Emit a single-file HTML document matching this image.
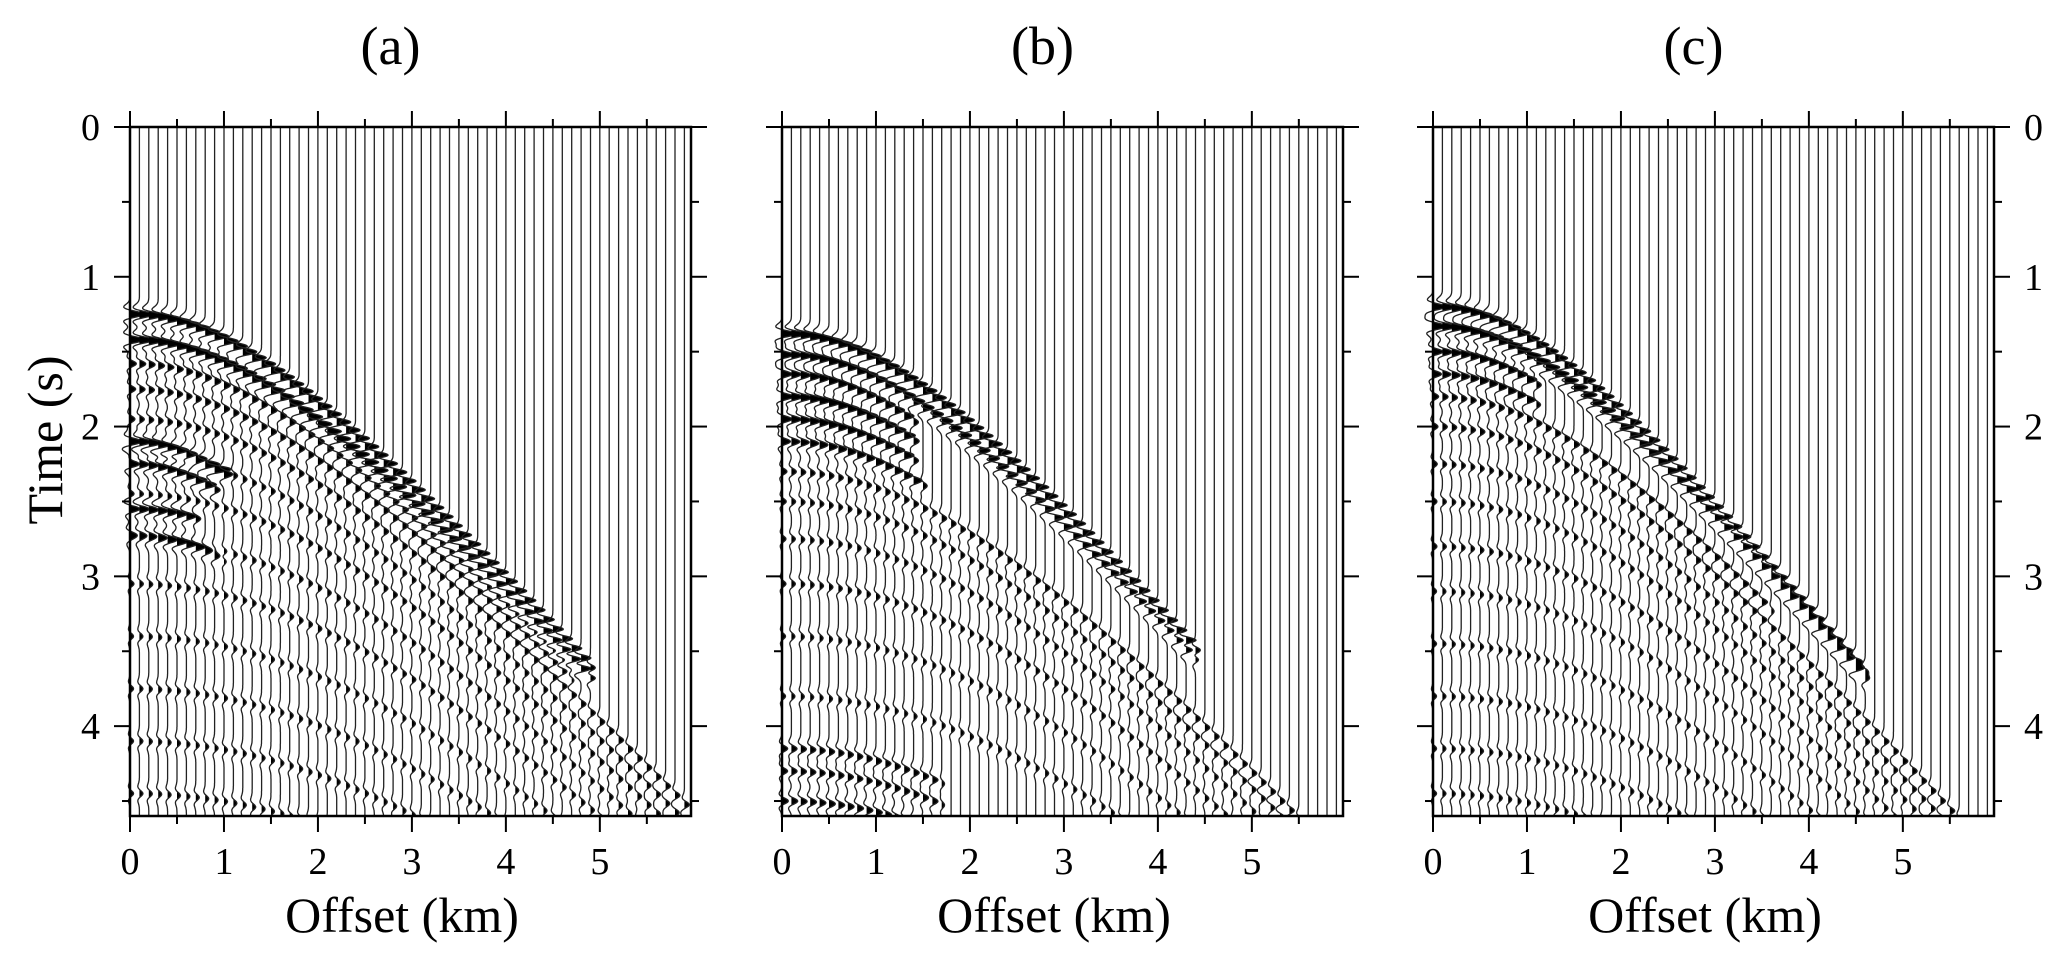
<!DOCTYPE html>
<html><head><meta charset="utf-8"><style>
html,body{margin:0;padding:0;background:#fff;}
svg{display:block;font-family:"Liberation Serif",serif;}
</style></head><body>
<svg id="fig" width="2067" height="964" viewBox="0 0 2067 964" xmlns="http://www.w3.org/2000/svg"></svg>
<script>
// ---- data ----
const panelTitles = ["(a)", "(b)", "(c)"];
const xTickLabels = [0, 1, 2, 3, 4, 5];
const yTickLabels = [0, 1, 2, 3, 4];
const traceOffsets = []; // km, 0..5.9
for (let i = 0; i < 60; i++) traceOffsets.push(+(i * 0.1).toFixed(1));
// events per panel: [t0 (s), velocity (km/s), amplitude, max offset (km)]
const eventsA = [[1.25,1.445,1.0,4.8],[1.42,1.445,1.0,4.8],[1.58,1.445,0.45,4.6],[1.75,1.445,0.4,4.6],[2.1,1.0,0.9,0.9],[2.25,1.0,0.8,0.8],[2.55,1.2,0.7,0.6],[2.72,1.0,0.5,0.9],[1.95,1.445,0.35,5.9],[2.2,1.445,0.3,5.9],[2.45,1.445,0.3,5.9],[2.75,1.445,0.28,5.9],[3.05,1.445,0.28,5.9],[3.4,1.445,0.25,5.9],[3.75,1.445,0.25,5.9],[4.1,1.445,0.25,5.9],[4.45,1.445,0.25,5.9]];
const eventsB = [[1.38,1.37,1.0,4.3],[1.52,1.37,0.8,4.3],[1.65,1.3,0.7,1.3],[1.8,1.3,0.8,1.3],[1.95,1.3,0.7,1.3],[2.1,1.3,0.6,1.4],[2.3,1.37,0.35,5.9],[2.5,1.37,0.3,5.9],[2.75,1.37,0.28,5.9],[3.05,1.37,0.28,5.9],[3.4,1.37,0.25,5.9],[3.8,1.37,0.25,5.9],[4.15,1.2,0.4,1.6],[4.3,1.2,0.4,1.6],[4.5,1.2,0.45,1.6]];
const eventsC = [[1.2,1.34,0.9,4.5],[1.33,1.34,1.0,4.5],[1.5,1.3,0.7,1.0],[1.65,1.3,0.6,1.0],[1.8,1.34,0.4,3.5],[2.0,1.34,0.35,5.9],[2.25,1.34,0.3,5.9],[2.5,1.34,0.28,5.9],[2.8,1.34,0.28,5.9],[3.1,1.34,0.25,5.9],[3.45,1.34,0.25,5.9],[3.8,1.34,0.25,5.9],[4.15,1.34,0.25,5.9],[4.45,1.34,0.25,5.9]];
const panelEvents = [eventsA, eventsB, eventsC];

// ---- layout ----
const NS = "http://www.w3.org/2000/svg";
const svg = document.getElementById("fig");
const panelLeft = [130, 782, 1433];
const plotW = 561, top0 = 127, bot = 816;
const tMax = 4.6, xMax = 5.97;
function mk(tag, attrs, parent){const e=document.createElementNS(NS,tag);for(const k in attrs)e.setAttribute(k,attrs[k]);(parent||svg).appendChild(e);return e;}
function ricker(t){const a=Math.PI*Math.PI*8*8*t*t;return (1-2*a)*Math.exp(-a);}

panelLeft.forEach((L, p) => {
  const xs = x => L + x / xMax * plotW;
  const ys = t => top0 + t / tMax * (bot - top0);
  const g = mk("g", {});
  
  
  const title = mk("text", {x: L + plotW/2 - 20, y: 64, "font-size": 54, "text-anchor": "middle"}, g);
  title.textContent = panelTitles[p];
  
  
  const tg = mk("g", {}, g);
  
  
  const ev = panelEvents[p];
  traceOffsets.forEach(x => {
    const bx = xs(x);
    let line = "", fill = "";
    const dt = 0.004;
    let first = true;
    for (let t = 0; t <= tMax + 1e-9; t += dt) {
      let a = 0;
      ev.forEach(e => {
        if (x > e[3] + 0.2) return;
        const taper = x > e[3] ? (1 - (x - e[3]) / 0.2) : 1;
        const tt = Math.sqrt(e[0]*e[0] + (x/e[1])*(x/e[1]));
        const d = t - tt;
        if (Math.abs(d) < 0.25) a += e[2] * taper * ricker(d);
      });
      let dx = a * 14;
      if (dx > 16) dx = 16; if (dx < -16) dx = -16;
      const y = ys(t).toFixed(1);
      line += (first ? "M" : "L") + (bx + dx).toFixed(1) + " " + y;
      fill += (first ? "M" + bx.toFixed(1) + " " + y + "L" : "L") + (bx + Math.max(0, dx)).toFixed(1) + " " + y;
      first = false;
    }
    fill += "L" + bx.toFixed(1) + " " + ys(tMax).toFixed(1) + "Z";
    const f = mk("path", {d: fill, fill: "#000", stroke: "none"}, tg);
    
    
    const l = mk("path", {d: line, fill: "none", stroke: "#222", "stroke-width": 1.3}, tg);
    
    
  });
  const fr = mk("rect", {x: L, y: top0, width: plotW, height: bot - top0, fill: "none", stroke: "#000", "stroke-width": 2.5}, g);
  
  
  for (let k = 0; k <= 11; k++) {
    const v = k * 0.5, X = xs(v), len = (k % 2 === 0) ? 16 : 8;
    mk("line", {x1: X, x2: X, y1: top0, y2: top0 - len, stroke: "#000", "stroke-width": 2}, g);
    mk("line", {x1: X, x2: X, y1: bot, y2: bot + len, stroke: "#000", "stroke-width": 2}, g);
  }
  xTickLabels.forEach(v => {
    const tx = mk("text", {x: xs(v), y: 874, "font-size": 38, "text-anchor": "middle"}, g);
    tx.textContent = v;
    
    
  });
  const xl = mk("text", {x: L + 272, y: 932, "font-size": 50, "text-anchor": "middle"}, g);
  xl.textContent = "Offset (km)";
  
  
  for (let k = 0; k <= 9; k++) {
    const v = k * 0.5, Y = ys(v), len = (k % 2 === 0) ? 16 : 8;
    mk("line", {x1: L, x2: L - len, y1: Y, y2: Y, stroke: "#000", "stroke-width": 2}, g);
    mk("line", {x1: L + plotW, x2: L + plotW + len, y1: Y, y2: Y, stroke: "#000", "stroke-width": 2}, g);
  }
  if (p === 0 || p === 2) {
    yTickLabels.forEach(v => {
      const ty = mk("text", {x: p === 0 ? L - 30 : L + plotW + 30, y: ys(v) + 13, "font-size": 38, "text-anchor": p === 0 ? "end" : "start"}, g);
      ty.textContent = v;
      
      
    });
  }
});
const yt = mk("text", {x: 0, y: 0, "font-size": 50, "text-anchor": "middle", transform: "translate(62,440) rotate(-90)"});
yt.textContent = "Time (s)";


</script>
</body></html>
